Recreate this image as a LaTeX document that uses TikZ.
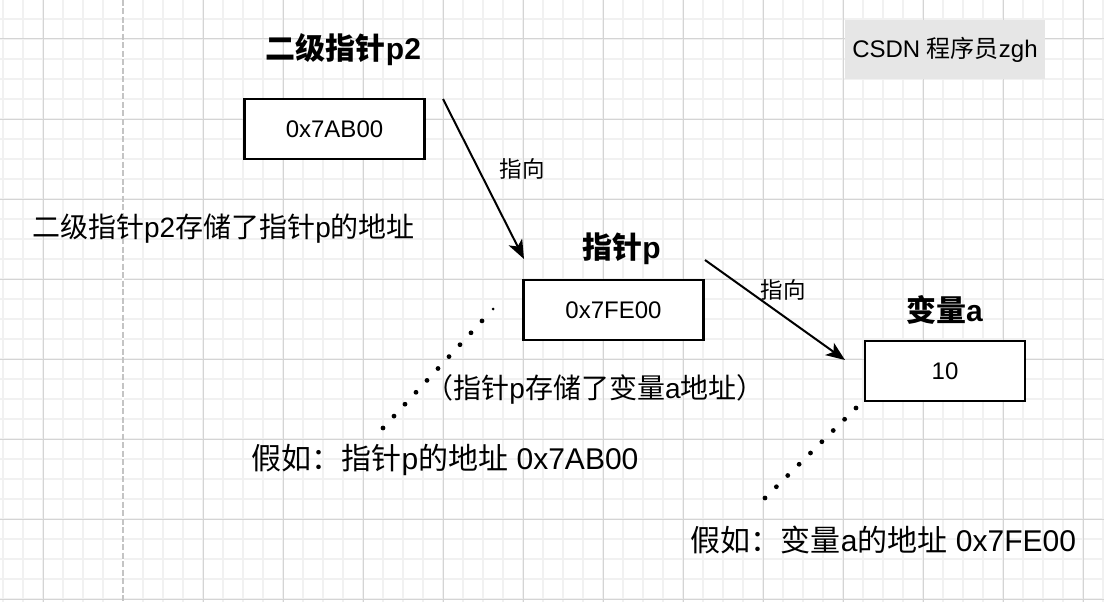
\documentclass[tikz,border=0pt]{standalone}
\usepackage{fontspec}
\setmainfont{Liberation Sans}
\newfontfamily\cjk{Noto Sans CJK SC}
\usetikzlibrary{arrows.meta,calc}
\newcommand\zh[1]{{\cjk #1}}
\definecolor{gridmajor}{HTML}{D4D4D4}
\definecolor{gridminor}{HTML}{F1F1F1}
\definecolor{dashgray}{HTML}{C4C4C4}
\definecolor{tagfill}{HTML}{E6E6E6}
\tikzset{
  memorybox/.style={draw=black, line width=2.6pt, fill=white, minimum width=180pt, minimum height=60pt, inner sep=0pt, font=\fontsize{24}{28}\selectfont},
  titletext/.style={font=\fontsize{30}{34}\selectfont\bfseries, inner sep=0pt},
  notetext/.style={font=\fontsize{30}{34}\selectfont, inner sep=0pt},
  pointsto/.style={line width=2pt, -{Stealth[length=19pt,width=15pt,inset=5pt]}},
  dotmark/.style={fill=black},
  arrowlabel/.style={font=\fontsize{22.5}{26}\selectfont, inner sep=0pt}
}
\begin{document}
\begin{tikzpicture}[x=1pt,y=-1pt]
\useasboundingbox (0,0) rectangle (1104,602);
\fill[white] (0,0) rectangle (1104,602);
% grid
\foreach \x in {3,23,...,1103} \draw[gridminor, line width=1.5pt] (\x,0) -- (\x,602);
\foreach \y in {19,39,...,599} \draw[gridminor, line width=1.5pt] (0,\y) -- (1104,\y);
\foreach \x in {43,203,283,...,1083} \draw[gridmajor, line width=1pt] (\x,0) -- (\x,602);
\foreach \y in {39,119,...,599} \draw[gridmajor, line width=1pt] (0,\y) -- (1104,\y);
\draw[white, line width=2.5pt] (123,0) -- (123,602);
\draw[dashgray, line width=1.7pt, dash pattern=on 6pt off 2.5pt] (123,0) -- (123,602);

% tag
\node[fill=tagfill, minimum width=200pt, minimum height=59pt, inner sep=0pt, font=\fontsize{24}{28}\selectfont] (tag) at (945,49.5) {CSDN \zh{程序员}zgh};

% boxes
\node[memorybox] (p2box) at (334.5,129) {0x7AB00};
\node[memorybox] (pbox) at (613.5,310) {0x7FE00};
\node[memorybox, minimum width=160pt] (abox) at (945,371) {10};

% titles
\node[titletext] (p2title) at (343.5,50) {\zh{二级指针}p2};
\node[titletext] (ptitle) at (621.5,249) {\zh{指针}p};
\node[titletext] (atitle) at (944.5,310) {\zh{变量}a};

% arrows
\coordinate (a1s) at (443,99);
\coordinate (a1e) at (524,259);
\coordinate (a2s) at (705,260);
\coordinate (a2e) at (845,360);
\draw[pointsto] (a1s) -- (a1e);
\draw[pointsto] (a2s) -- (a2e);
\node[arrowlabel] (l1) at (522,169) {\zh{指向}};
\node[arrowlabel] (l2) at (783,290) {\zh{指向}};

% notes
\node[notetext, font=\fontsize{28}{32}\selectfont] (n1) at (223.5,229) {\zh{二级指针}p2\zh{存储了指针}p\zh{的地址}};
\node[notetext, font=\fontsize{28}{32}\selectfont] (n2) at (595,389) {\zh{（指针}p\zh{存储了变量}a\zh{地址）}};
\node[notetext] (n3) at (445,460) {\zh{假如：指针}p\zh{的地址} 0x7AB00};
\node[notetext] (n4) at (883.5,540) {\zh{假如：变量}a\zh{的地址} 0x7FE00};

% dotted leaders
\coordinate (d1s) at (493,309);
\coordinate (d1e) at (383,428);
\coordinate (d2s) at (856,408);
\coordinate (d2e) at (765,498);
\foreach \t in {1,...,10} \fill[dotmark] ($(d1s)!\t/10!(d1e)$) circle (2.4pt);
\fill[dotmark] (d1s) circle (1.5pt);
\foreach \t in {0,...,8} \fill[dotmark] ($(d2s)!\t/8!(d2e)$) circle (2.4pt);
\end{tikzpicture}
\end{document}
